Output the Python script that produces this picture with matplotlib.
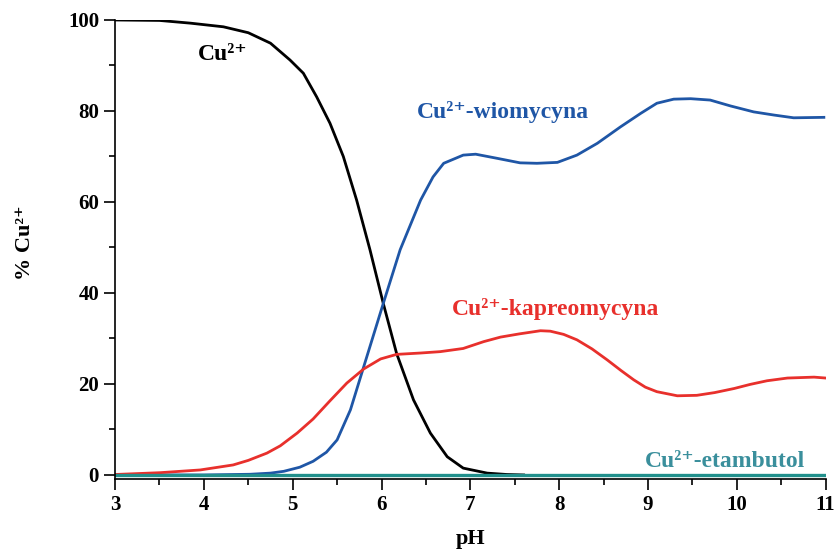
import matplotlib
matplotlib.use("Agg")
import matplotlib.pyplot as plt
from matplotlib.ticker import MultipleLocator

plt.rcParams['font.family'] = ['Liberation Serif', 'DejaVu Serif']
plt.rcParams['font.weight'] = 'bold'

ph_cu = [3.0, 3.5, 3.85, 4.22, 4.5, 4.75, 4.97, 5.12, 5.27, 5.42, 5.57, 5.72, 5.87, 6.02,
         6.17, 6.36, 6.55, 6.74, 6.92, 7.19, 7.41, 7.6]
cu = [100.0, 99.9, 99.3, 98.5, 97.2, 94.9, 91.2, 88.3, 83.1, 77.3, 70.0, 60.4, 49.5, 37.7,
      26.7, 16.5, 9.2, 4.0, 1.5, 0.4, 0.1, 0.0]

ph_w = [3.0, 4.0, 4.52, 4.75, 4.9, 5.08, 5.23, 5.38, 5.5, 5.65, 5.8, 6.02, 6.21, 6.44, 6.58, 6.7,
        6.92, 7.06, 7.3, 7.56, 7.75, 7.98, 8.2, 8.43, 8.69, 8.92, 9.1, 9.29, 9.48, 9.7,
        9.93, 10.19, 10.42, 10.64, 10.98]
wio = [0.0, 0.0, 0.15, 0.4, 0.8, 1.7, 3.0, 5.0, 7.7, 14.3, 23.8, 37.7, 49.5, 60.4, 65.5, 68.5,
       70.3, 70.5, 69.6, 68.6, 68.5, 68.7, 70.3, 72.9, 76.5, 79.5, 81.7, 82.6, 82.7, 82.4,
       81.1, 79.8, 79.1, 78.5, 78.6]

ph_k = [3.0, 3.51, 3.96, 4.33, 4.5, 4.71, 4.86, 5.05, 5.23, 5.42, 5.61, 5.8, 5.99, 6.17, 6.44,
        6.66, 6.92, 7.15, 7.34, 7.55, 7.79, 7.9, 8.05, 8.2, 8.37, 8.54, 8.7, 8.84, 8.97, 9.1,
        9.33, 9.55, 9.75, 9.97, 10.15, 10.34, 10.57, 10.87, 11.0]
kap = [0.1, 0.5, 1.1, 2.2, 3.2, 4.8, 6.4, 9.2, 12.3, 16.3, 20.2, 23.3, 25.5, 26.5, 26.8,
       27.1, 27.8, 29.3, 30.3, 31.0, 31.7, 31.6, 30.9, 29.7, 27.7, 25.3, 22.9, 20.9, 19.3, 18.3,
       17.4, 17.5, 18.1, 19.0, 19.9, 20.7, 21.3, 21.5, 21.3]

ph_e = [3.0, 11.0]
eta = [0.0, 0.0]

fig = plt.figure(figsize=(8.36, 5.49), dpi=100)
ax = fig.add_axes([0.1376, 0.1266, 0.85, 0.837])

ax.plot(ph_cu, cu, color='black', lw=2.0, solid_joinstyle='round')
ax.plot(ph_w, wio, color='#1f56a6', lw=2.0, solid_joinstyle='round')
ax.plot(ph_k, kap, color='#e8302c', lw=2.0, solid_joinstyle='round')
ax.plot(ph_e, eta, color='#21908c', lw=2.4)

ax.set_xlim(3, 11)
ax.set_ylim(-1, 100)
ax.spines['top'].set_visible(False)
ax.spines['right'].set_visible(False)
ax.xaxis.set_major_locator(MultipleLocator(1))
ax.xaxis.set_minor_locator(MultipleLocator(0.5))
ax.yaxis.set_major_locator(MultipleLocator(20))
ax.yaxis.set_minor_locator(MultipleLocator(10))
ax.tick_params(which='major', length=8, width=1.2, direction='out', labelsize=15)
ax.tick_params(which='minor', length=4, width=1.2, direction='out')
for s in ax.spines.values():
    s.set_linewidth(1.2)

ax.set_xlabel('pH', fontsize=16, fontweight='bold', labelpad=10)
ax.set_ylabel('% Cu²⁺', fontsize=16, fontweight='bold')
ax.yaxis.set_label_coords(-0.112, 0.515)

ax.text(3.935, 91.2, 'Cu²⁺', color='black', fontsize=17, fontweight='bold')
ax.text(6.40, 78.5, 'Cu²⁺-wiomycyna', color='#1f56a6', fontsize=17, fontweight='bold')
ax.text(6.79, 35.2, 'Cu²⁺-kapreomycyna', color='#e8302c', fontsize=17, fontweight='bold')
ax.text(8.97, 1.8, 'Cu²⁺-etambutol', color='#3a8f9c', fontsize=17, fontweight='bold')

fig.savefig('out.png', dpi=100)
